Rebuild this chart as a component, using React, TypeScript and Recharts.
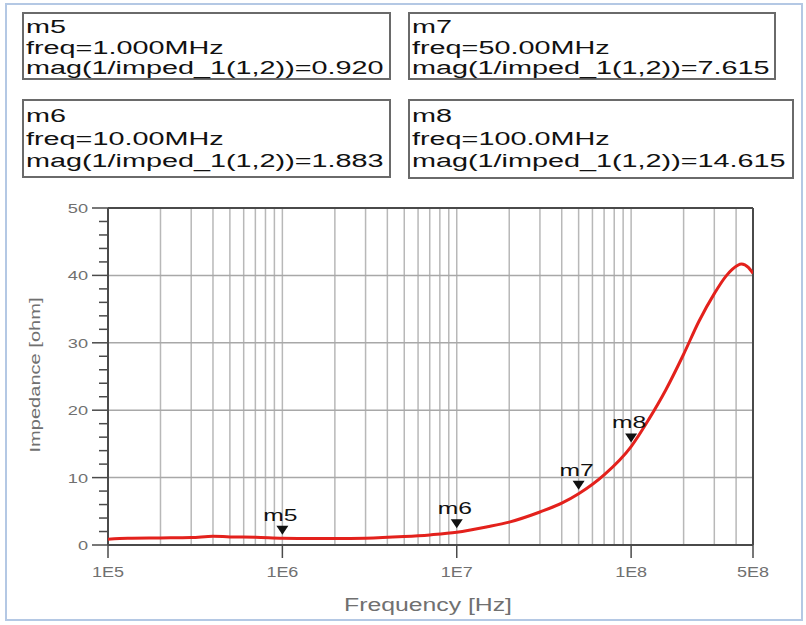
import React from "react";
import {
  ComposedChart,
  Line,
  Scatter,
  XAxis,
  YAxis,
  ReferenceLine,
} from "recharts";

// impedance curve
const FREQS = [
  1e5, 1.3e5, 2e5, 3e5, 4e5, 5e5, 7e5, 1e6, 1.5e6, 2e6, 3e6, 5e6, 7e6, 1e7,
  1.5e7, 2e7, 3e7, 4e7, 5e7, 7e7, 1e8, 1.26e8, 1.58e8, 2e8, 2.45e8, 3e8,
  3.5e8, 3.8e8, 4.3e8, 4.7e8, 5e8,
];
const IMPEDANCE = [
  0.85, 1.0, 1.05, 1.1, 1.3, 1.2, 1.15, 1.0, 0.95, 0.95, 1.0, 1.25, 1.5, 1.88,
  2.7, 3.4, 4.9, 6.2, 7.6, 10.4, 14.6, 18.6, 23.0, 28.3, 33.2, 37.3, 39.9,
  40.9, 41.7, 41.2, 40.3,
];

const MARKER_NAMES = ["m5", "m6", "m7", "m8"];
const MARKER_FREQS = [1e6, 1e7, 5e7, 1e8];
const MARKER_VALUES = [0.92, 1.883, 7.615, 14.615];
const MARKER_FREQ_TEXT = ["1.000MHz", "10.00MHz", "50.00MHz", "100.0MHz"];
const MARKER_VALUE_TEXT = ["0.920", "1.883", "7.615", "14.615"];

const X_TICKS = [1e5, 1e6, 1e7, 1e8, 5e8];
const X_TICK_LABELS = ["1E5", "1E6", "1E7", "1E8", "5E8"];
const Y_TICKS = [0, 2, 4, 6, 8, 10, 12, 14, 16, 18, 20, 22, 24, 26, 28, 30, 32, 34, 36, 38, 40, 42, 44, 46, 48, 50];
const H_GRID = [10, 20, 30, 40];
const DECADES = [1e5, 1e6, 1e7, 1e8];
const MULTS = [1, 2, 3, 4, 5, 6, 7, 8, 9];

const curve = FREQS.map((f, i) => ({ f, v: IMPEDANCE[i] }));
const markers = MARKER_NAMES.map((name, i) => ({
  name,
  f: MARKER_FREQS[i],
  v: MARKER_VALUES[i],
}));
const vGrid = DECADES.flatMap((d) => MULTS.map((m) => m * d)).filter(
  (f) => f > 1e5 && f < 5e8
);

const FONT = "'Liberation Sans', Arial, sans-serif";
const AXIS_DARK = "#4a4a4a";
const LABEL_GRAY = "#707070";

// boxes at the top, positions match the reference layout
const BOXES = [
  { left: 23, top: 13, width: 367, height: 66, lines: [33, 54, 74] },
  { left: 23, top: 100, width: 367, height: 77, lines: [122, 145, 167] },
  { left: 409, top: 13, width: 366, height: 66, lines: [33, 54, 74] },
  { left: 409, top: 100, width: 384, height: 78, lines: [122, 145, 167] },
];

function StretchText({ x, y, size, anchor = "start", fill = "#111", sx = 1.45, children }: any) {
  return (
    <text
      transform={`translate(${x},${y}) scale(${sx},1)`}
      fontFamily={FONT}
      fontSize={size}
      textAnchor={anchor}
      fill={fill}
    >
      {children}
    </text>
  );
}

function YTick({ x, y, payload }: any) {
  const major = payload.value % 10 === 0;
  return (
    <g>
      <line x1={x - (major ? 16 : 9)} x2={x} y1={y} y2={y} stroke={AXIS_DARK} strokeWidth={1.5} />
      {major && (
        <StretchText x={x - 20} y={y + 5} size={13} anchor="end" fill={LABEL_GRAY} sx={1.4}>
          {payload.value}
        </StretchText>
      )}
    </g>
  );
}

function XTick({ x, y, payload }: any) {
  const idx = X_TICKS.indexOf(payload.value);
  return (
    <g>
      <line x1={x} x2={x} y1={y} y2={y + 13} stroke={AXIS_DARK} strokeWidth={1.5} />
      <StretchText x={x} y={y + 32} size={15} anchor="middle" fill={LABEL_GRAY} sx={1.2}>
        {X_TICK_LABELS[idx]}
      </StretchText>
    </g>
  );
}

function MarkerShape({ cx, cy, payload }: any) {
  const tip = cy - 4;
  return (
    <g>
      <path d={`M${cx - 6},${tip - 9} L${cx + 6},${tip - 9} L${cx},${tip} Z`} fill="#111" />
      <StretchText x={cx - 2} y={tip - 14} size={17} anchor="middle">
        {payload.name}
      </StretchText>
    </g>
  );
}

export default function App() {
  return (
    <div
      style={{
        position: "absolute",
        left: 0,
        top: 0,
        width: 806,
        height: 625,
        background: "#fff",
        overflow: "hidden",
      }}
    >
      {/* outer frame */}
      <div
        style={{
          position: "absolute",
          left: 5,
          top: 3,
          width: 794,
          height: 614,
          border: "2px solid #b4c8e4",
          background: "#fff",
        }}
      />

      <ComposedChart
        width={806}
        height={625}
        margin={{ top: 208, right: 53, bottom: 50, left: 48 }}
        style={{ position: "absolute", left: 0, top: 0 }}
      >
        <XAxis
          dataKey="f"
          type="number"
          scale="log"
          domain={[1e5, 5e8]}
          allowDataOverflow
          ticks={X_TICKS}
          tick={<XTick />}
          tickSize={0}
          tickMargin={0}
          tickLine={false}
          height={30}
          axisLine={false}
          interval={0}
        />
        <YAxis
          dataKey="v"
          type="number"
          domain={[0, 50]}
          ticks={Y_TICKS}
          tick={<YTick />}
          tickSize={0}
          tickMargin={0}
          tickLine={false}
          width={60}
          axisLine={false}
          interval={0}
        />
        {vGrid.map((f) => (
          <ReferenceLine key={f} x={f} stroke="#b8b8b8" strokeWidth={1.5} />
        ))}
        {H_GRID.map((v) => (
          <ReferenceLine key={v} y={v} stroke="#a8a8a8" strokeWidth={1.5} />
        ))}
        <ReferenceLine y={50} stroke={AXIS_DARK} strokeWidth={2} />
        <ReferenceLine x={5e8} stroke={AXIS_DARK} strokeWidth={2} />
        <ReferenceLine x={1e5} stroke={AXIS_DARK} strokeWidth={2} />
        <ReferenceLine y={0} stroke={AXIS_DARK} strokeWidth={2} />
        <Line
          data={curve}
          dataKey="v"
          type="monotone"
          stroke="#e3211c"
          strokeWidth={3}
          dot={false}
          isAnimationActive={false}
        />
        <Scatter
          data={markers}
          dataKey="v"
          shape={<MarkerShape />}
          isAnimationActive={false}
        />
      </ComposedChart>

      {/* axis titles */}
      <svg
        width={806}
        height={625}
        style={{ position: "absolute", left: 0, top: 0, pointerEvents: "none" }}
      >
        <text
          x={428}
          y={611}
          fontFamily={FONT}
          fontSize={18}
          fill={LABEL_GRAY}
          textAnchor="middle"
          textLength={168}
          lengthAdjust="spacingAndGlyphs"
        >
          Frequency [Hz]
        </text>
        <text
          transform="translate(40,375) rotate(-90)"
          fontFamily={FONT}
          fontSize={15}
          fill={LABEL_GRAY}
          textAnchor="middle"
          textLength={155}
          lengthAdjust="spacingAndGlyphs"
        >
          Impedance [ohm]
        </text>

        {/* marker readout boxes */}
        {BOXES.map((b, i) => (
          <g key={i}>
            <rect
              x={b.left}
              y={b.top}
              width={b.width}
              height={b.height}
              fill="#fff"
              stroke="#6a6a6a"
              strokeWidth={2}
            />
            <StretchText x={b.left + 3} y={b.lines[0]} size={18} sx={1.6}>
              {MARKER_NAMES[i]}
            </StretchText>
            <StretchText x={b.left + 3} y={b.lines[1]} size={18} sx={1.6}>
              {`freq=${MARKER_FREQ_TEXT[i]}`}
            </StretchText>
            <StretchText x={b.left + 3} y={b.lines[2]} size={18} sx={1.6}>
              {`mag(1/imped_1(1,2))=${MARKER_VALUE_TEXT[i]}`}
            </StretchText>
          </g>
        ))}
      </svg>
    </div>
  );
}
